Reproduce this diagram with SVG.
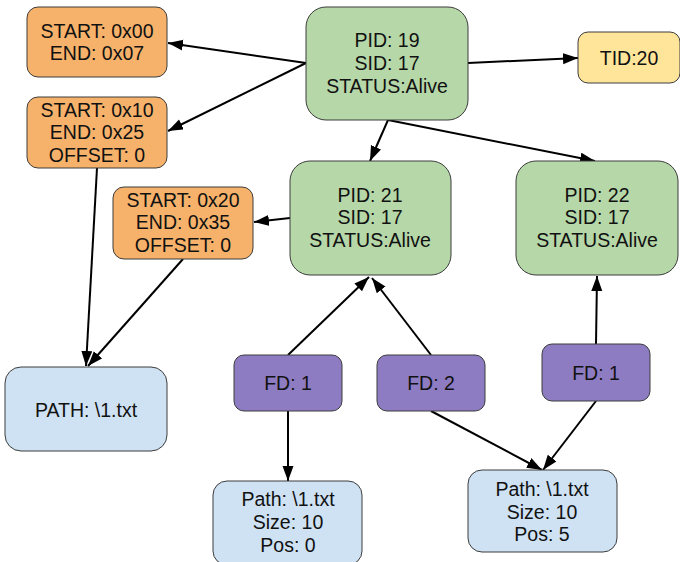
<svg xmlns="http://www.w3.org/2000/svg" width="680" height="562" viewBox="0 0 680 562">
  <style>
    .box { stroke: #3c3c3c; stroke-width: 1; }
    .mem { fill: #f6b26b; }
    .proc { fill: #b6d7a8; }
    .thr { fill: #ffe599; }
    .fd { fill: #8e7cc3; }
    .file { fill: #cfe2f3; }
    text { font-family: "Liberation Sans", Arial, sans-serif; font-size: 19.5px; fill: #111; text-anchor: middle; }
    .edge { stroke: #000; stroke-width: 2; fill: none; marker-end: url(#arrow); }
  </style>
  <defs>
    <marker id="arrow" markerUnits="userSpaceOnUse" markerWidth="16" markerHeight="12" refX="15" refY="5.5" orient="auto">
      <path d="M0,0 L15,5.5 L0,11 z" fill="#000"/>
    </marker>
  </defs>

  <rect width="680" height="562" fill="#fff"/>

  <!-- connectors -->
  <g id="connectors">
    <line class="edge" x1="306" y1="63" x2="168" y2="43"/>
    <line class="edge" x1="306" y1="63" x2="168" y2="131"/>
    <line class="edge" x1="468" y1="63" x2="578" y2="58"/>
    <line class="edge" x1="388" y1="120" x2="370" y2="161"/>
    <line class="edge" x1="388" y1="120" x2="595" y2="161"/>
    <line class="edge" x1="290" y1="218" x2="254" y2="222"/>
    <line class="edge" x1="97" y1="168" x2="86" y2="366"/>
    <line class="edge" x1="183" y1="259" x2="88" y2="366"/>
    <line class="edge" x1="288" y1="355" x2="369" y2="277"/>
    <line class="edge" x1="431" y1="355" x2="372" y2="278"/>
    <line class="edge" x1="596" y1="344" x2="597" y2="276"/>
    <line class="edge" x1="288" y1="411" x2="288" y2="481"/>
    <line class="edge" x1="431" y1="411" x2="542" y2="470"/>
    <line class="edge" x1="596" y1="401" x2="543" y2="470"/>
  </g>

  <!-- memory regions -->
  <g id="mem0">
    <rect class="box mem" x="27" y="7" width="140" height="70" rx="11"/>
    <text x="97" y="38">START: 0x00</text>
    <text x="97" y="60">END: 0x07</text>
  </g>
  <g id="mem1">
    <rect class="box mem" x="27" y="97" width="140" height="71" rx="11"/>
    <text x="97" y="117">START: 0x10</text>
    <text x="97" y="139">END: 0x25</text>
    <text x="97" y="162">OFFSET: 0</text>
  </g>
  <g id="mem2">
    <rect class="box mem" x="113" y="187" width="140" height="72" rx="11"/>
    <text x="183" y="207">START: 0x20</text>
    <text x="183" y="229">END: 0x35</text>
    <text x="183" y="252">OFFSET: 0</text>
  </g>

  <!-- processes -->
  <g id="pid19">
    <rect class="box proc" x="306" y="7" width="162" height="113" rx="20"/>
    <text x="387" y="47">PID: 19</text>
    <text x="387" y="70">SID: 17</text>
    <text x="387" y="93">STATUS:Alive</text>
  </g>
  <g id="pid21">
    <rect class="box proc" x="290" y="161" width="161" height="114" rx="20"/>
    <text x="370" y="202">PID: 21</text>
    <text x="370" y="224">SID: 17</text>
    <text x="370" y="247">STATUS:Alive</text>
  </g>
  <g id="pid22">
    <rect class="box proc" x="516" y="161" width="162" height="114" rx="20"/>
    <text x="597" y="202">PID: 22</text>
    <text x="597" y="224">SID: 17</text>
    <text x="597" y="247">STATUS:Alive</text>
  </g>

  <!-- thread -->
  <g id="tid20">
    <rect class="box thr" x="578" y="32" width="102" height="51" rx="10"/>
    <text x="629" y="65">TID:20</text>
  </g>

  <!-- mapped file -->
  <g id="path-map">
    <rect class="box file" x="5" y="367" width="162" height="84" rx="16"/>
    <text x="86" y="417">PATH: \1.txt</text>
  </g>

  <!-- file descriptors -->
  <g id="fd21-1">
    <rect class="box fd" x="234" y="355" width="108" height="56" rx="10"/>
    <text x="288" y="390">FD: 1</text>
  </g>
  <g id="fd21-2">
    <rect class="box fd" x="377" y="355" width="108" height="56" rx="10"/>
    <text x="431" y="390">FD: 2</text>
  </g>
  <g id="fd22-1">
    <rect class="box fd" x="542" y="344" width="108" height="57" rx="10"/>
    <text x="596" y="380">FD: 1</text>
  </g>

  <!-- open file entries -->
  <g id="file-a">
    <rect class="box file" x="213" y="481" width="149" height="84" rx="14"/>
    <text x="288" y="506">Path: \1.txt</text>
    <text x="288" y="529">Size: 10</text>
    <text x="288" y="552">Pos: 0</text>
  </g>
  <g id="file-b">
    <rect class="box file" x="468" y="470" width="149" height="82" rx="14"/>
    <text x="542" y="496">Path: \1.txt</text>
    <text x="542" y="519">Size: 10</text>
    <text x="542" y="541">Pos: 5</text>
  </g>
</svg>
